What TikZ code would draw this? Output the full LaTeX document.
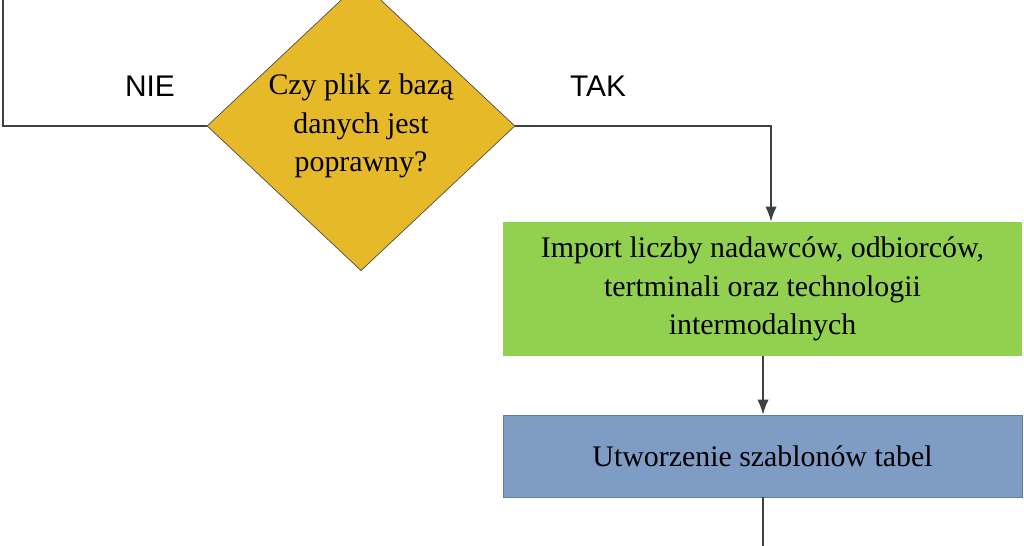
\documentclass[tikz,border=0pt]{standalone}
\usepackage{fontspec}
\setmainfont{Liberation Serif}
\newfontfamily\labelfont{Liberation Sans}
\usetikzlibrary{shapes.geometric,arrows.meta}
\definecolor{decyellow}{RGB}{230,185,40}
\definecolor{stepgreen}{RGB}{146,208,80}
\definecolor{stepblue}{RGB}{126,156,196}
\tikzset{
    decision/.style={diamond, fill=decyellow, draw=black!70, minimum width=6.16cm, minimum height=5.68cm, inner sep=0pt, align=center, font=\fontsize{17}{22}\selectfont},
    stepbox/.style={rectangle, minimum width=10.38cm, align=center, inner sep=0pt, font=\fontsize{17}{22}\selectfont},
    answer/.style={font=\labelfont\fontsize{17}{20}\selectfont},
    flow/.style={thick, draw=black!75},
}
\begin{document}
\begin{tikzpicture}[x=0.02cm, y=-0.02cm]
    \useasboundingbox (0,0) rectangle (1024,546);
    \clip (0,0) rectangle (1024,546);
    \node[decision] (dec) at (361,126) {Czy plik z bazą\\danych jest\\poprawny?};
    \node[stepbox, fill=stepgreen, minimum height=2.68cm] (imp) at (762.5,289) {Import liczby nadawców, odbiorców,\\tertminali oraz technologii\\intermodalnych};
    \node[stepbox, fill=stepblue, draw=stepblue!80!black, minimum height=1.64cm] (tab) at (762.5,456) {Utworzenie szablonów tabel};
    \coordinate (left) at (3,126);
    \coordinate (lefttop) at (3,-5);
    \coordinate (right) at (771,126);
    \coordinate (bottom) at (763,560);
    \node[answer] (nie) at (150,86) {NIE};
    \node[answer] (tak) at (598,86) {TAK};
    \draw[flow] (dec.west) -- (left) -- (lefttop);
    \draw[flow, -{Latex[length=3mm]}] (dec.east) -- (right) -- (right |- imp.north);
    \draw[flow, -{Latex[length=3mm]}] (imp.south -| bottom) -- (tab.north -| bottom);
    \draw[flow] (tab.south -| bottom) -- (bottom);
\end{tikzpicture}
\end{document}
